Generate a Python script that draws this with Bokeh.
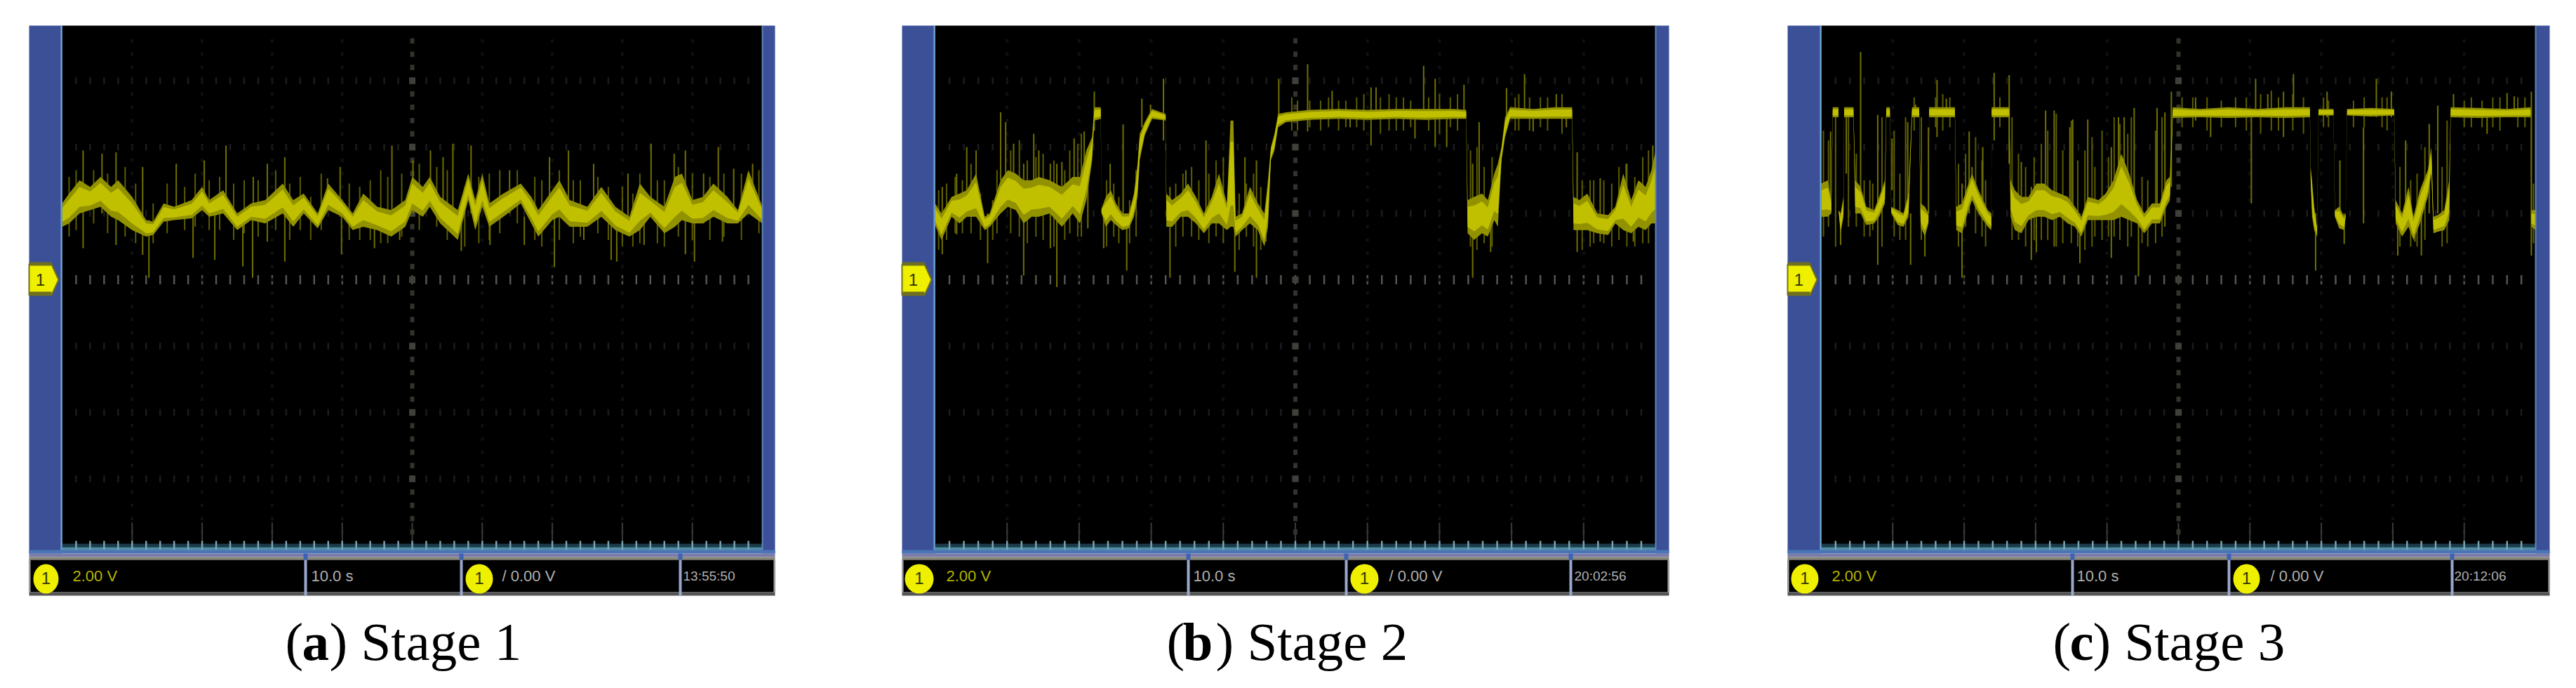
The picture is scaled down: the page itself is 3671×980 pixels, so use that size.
from bokeh.plotting import figure
from bokeh.layouts import row
from bokeh.models import Range1d
from bokeh.core.properties import value
from bokeh.embed import file_html
from bokeh.resources import INLINE

# ---------- Stage 1 trace (seconds, volts) ----------
a_t = [0,1,2.5,4,5.5,7,8,10,12,13,14.5,16,18.5,20,21,23,25,27,29,31.5,33,34.5,36.5,38,40,41.5,43,45,47,49,50,51.5,52.5,54,56.5,58,59,60,61,63,65.5,67,68,70,71,72.5,75,77,79,81,82.5,84,86,87.5,88.5,90,91.5,93,95,96.5,98,100]
a_lo = [1.6,1.7,2.0,2.1,2.2,1.9,1.8,1.5,1.3,1.35,1.75,1.8,1.85,2.1,1.9,2.0,1.5,1.8,1.7,2.0,1.6,2.0,1.55,2.1,1.9,1.5,1.6,1.5,1.3,1.6,2.1,1.9,2.2,1.7,1.2,2.4,1.5,2.2,1.6,1.9,2.3,1.7,1.3,1.8,1.9,1.6,1.6,1.9,1.5,1.3,1.5,1.9,1.4,1.6,1.8,1.7,1.7,1.9,1.7,1.7,2.0,1.7]
a_hi = [2.3,2.6,3.0,2.8,3.1,2.8,3.0,2.5,1.8,1.75,2.3,2.2,2.4,2.8,2.4,2.7,2.0,2.3,2.4,2.9,2.4,2.6,2.0,2.9,2.4,2.0,2.6,2.2,2.1,2.4,3.1,2.8,3.1,2.5,2.1,3.2,2.4,3.2,2.3,2.6,2.9,2.5,2.1,2.7,3.0,2.4,2.2,2.8,2.2,1.9,2.9,2.5,2.2,3.1,3.2,2.4,2.5,2.9,2.5,2.1,3.3,2.2]
a_spike_t = [3.0,5.7,7.7,11.5,16.3,20.3,23.4,27.3,29.3,31.8,
             37.9,39.7,47.1,50.1,52.6,54.4,55.8,58.4,63.9,69.6,
             72.3,75.9,80.8,84.1,87.4,89.0,91.6,93.7,95.9,98.6,
             12.4,18.7,21.8,25.8,27.2,39.9,44.6,48.2,57.0,61.1,
             66.0,70.3,74.5,78.4,79.2,83.1,90.3,94.3]
a_spike_lo = [0.95,2.0,1.05,0.75,2.0,2.1,2.0,1.8,1.15,0.55,
              2.1,1.9,1.5,2.0,2.2,1.8,1.8,2.0,2.0,1.9,
              1.7,1.9,1.5,1.9,1.7,0.77,1.7,1.9,1.7,2.0,
              0.06,0.66,0.6,0.4,0.06,0.77,0.95,1.2,0.87,1.05,
              1.05,0.38,1.2,0.6,0.55,1.05,0.55,1.15]
a_spike_hi = [3.9,3.8,3.84,3.4,3.5,3.6,4.05,3.1,3.5,3.7,
              3.06,3.4,4.05,3.6,3.9,3.7,4.1,4.05,3.3,3.7,
              3.9,3.5,3.2,4.1,3.8,3.9,3.2,4.0,3.35,3.5,
              1.8,2.0,2.0,1.8,1.9,2.0,1.9,1.8,1.7,1.9,
              1.9,2.0,1.8,1.8,1.7,1.7,1.9,1.9]
a_fine_t = [1,2,4.5,6.5,9,10.5,13,15,17.5,19,
            21,22.5,24.5,26,28,30.5,32.5,34,35.5,37,
            41,42.5,44,45.5,46.5,48.5,51,53.5,55,57.5,
            59.5,61,62.5,65,67.5,68.5,71,73,74,76.5,
            78,80,81.5,82.5,85,86,88,90,92.5,94.5,
            97,99.5]
a_fine_lo = [1.3,1.5,1.7,1.4,1.3,1.1,1.1,1.4,1.5,1.6,
             1.5,1.5,1.2,1.4,1.3,1.5,1.2,1.5,1.2,1.5,
             1.2,1.2,1.2,1.1,1.1,1.3,1.5,1.6,1.2,1.0,
             1.1,1.2,1.4,1.7,1.2,1.0,1.2,1.1,1.3,1.4,
             1.2,1.0,1.0,1.1,1.1,1.0,1.3,1.2,1.2,1.3,
             1.2,1.4]
a_fine_hi = [3.1,3.3,3.3,3.2,3.4,2.9,2.3,2.9,2.8,3.2,
             3.0,3.1,2.9,3.0,3.0,3.3,2.9,3.1,2.5,3.2,
             2.9,2.8,3.0,3.3,3.1,3.2,3.5,3.4,3.3,2.8,
             3.1,3.2,3.3,3.3,3.1,3.0,3.3,3.0,3.0,3.1,
             2.8,2.8,2.6,3.2,3.0,3.0,3.4,3.2,3.1,3.2,
             3.2,3.3]

# ---------- Stage 2 trace ----------
b_t = [0,0.9,2.3,3.4,4.4,5.7,6.9,7.6,9.1,10.1,11.2,12.3,13.4,14.4,15.9,17.6,19.1,20.1,21,21.8,22.1,23,
       23.1,23.7,24.4,25.1,26,26.9,27.6,28.1,28.4,29.1,30.1,32,
       32.1,32.9,34.1,35.1,36.2,37.3,38.4,39.4,40.5,41,41.4,41.7,42.6,43.7,44.8,45.7,46.2,46.6,47.1,47.6,
       48.7,52,56,60,64,68,72,73.7,
       73.9,74.8,75.9,76.7,77.6,78.1,78.6,79.1,79.8,83,86,88.4,
       88.6,89.4,90.5,91.9,93.4,94.4,95.5,96.6,97.6,98.6,99.4,100]
b_lo = [1.65,1.2,1.9,1.7,1.9,1.9,1.5,1.6,2.0,2.2,2.1,1.7,1.9,1.9,2.0,1.6,2.0,1.7,2.4,3.6,4.8,4.85,
        2.0,1.6,1.8,1.65,1.5,1.55,1.9,2.5,3.6,4.35,4.85,4.8,
        1.6,1.6,1.9,1.9,1.7,1.4,1.7,1.7,1.5,1.6,1.6,1.3,1.5,1.7,1.5,1.0,1.6,3.6,3.9,4.6,
        4.75,4.82,4.85,4.82,4.85,4.82,4.85,4.85,
        1.4,1.2,1.4,1.3,1.8,1.6,3.6,4.3,4.85,4.85,4.85,4.85,
        1.5,1.5,1.5,1.4,1.35,1.7,1.5,1.4,1.6,1.5,1.7,1.7]
b_hi = [2.3,2.0,2.5,2.6,2.7,3.2,1.9,2.0,3.0,3.3,3.2,3.0,3.0,3.1,3.0,2.8,3.1,3.1,3.9,4.3,5.2,5.2,
        2.15,2.5,2.7,2.3,2.0,2.0,2.6,3.5,4.4,4.75,5.15,5.0,
        2.6,2.4,2.6,2.9,2.5,2.0,2.5,3.2,2.3,4.8,4.8,1.9,2.0,2.8,2.3,2.0,3.0,4.0,4.4,5.0,
        5.05,5.12,5.15,5.12,5.15,5.15,5.15,5.12,
        2.4,2.5,2.6,2.4,3.2,3.5,4.0,4.9,5.2,5.15,5.2,5.2,
        2.5,2.4,2.6,2.0,1.95,2.2,3.2,2.4,3.0,2.8,3.3,3.9]
b_spike_t = [1.0,3.0,4.4,5.7,7.3,9.1,9.8,10.9,12.3,13.7,
             14.4,16.0,16.9,17.6,19.3,20.7,21.2,22.1,23.4,24.3,
             26.1,26.6,28.7,29.9,31.7,32.6,34.8,37.6,41.6,43.0,
             44.6,45.9,47.7,51.7,55.1,57.6,60.5,61.2,66.6,67.8,
             69.4,71.0,73.4,74.6,75.5,77.1,79.3,81.8,83.0,86.2,
             87.6,89.1,92.3,95.9,96.9,99.6]
b_spike_lo = [0.77,1.37,2.2,2.5,0.5,3.0,3.0,3.0,0.13,2.5,
              2.5,0.95,-0.22,2.5,2.5,2.5,1.55,4.5,0.95,2.0,
              2.0,0.28,4.6,4.8,4.2,0.06,2.0,2.0,0.24,2.0,
              0.06,1.15,4.8,4.47,4.9,4.6,4.05,4.9,4.26,4.9,
              4.0,4.0,4.9,0.06,2.2,0.84,4.8,4.9,4.47,4.9,
              4.6,0.84,1.15,2.0,1.15,2.5]
b_spike_hi = [2.8,3.2,4.0,3.9,2.0,5.05,4.75,4.1,3.5,4.4,
              3.9,3.5,3.5,3.55,4.26,4.47,3.4,5.67,2.0,3.5,
              4.68,2.0,5.46,5.28,6.06,2.8,3.3,4.2,2.0,3.7,
              3.6,2.0,6.06,6.5,5.7,5.0,5.8,5.8,5.0,6.45,
              6.06,5.0,5.88,3.5,4.75,2.4,5.78,6.2,5.0,5.6,
              5.0,3.84,3.06,3.5,2.0,4.05]
b_fine_t = [0.5,1.6,2.8,3.8,5,6.3,8,8.6,10.5,11.7,
            12.8,14,15,16.5,18,18.7,19.8,20.3,23.8,24.8,
            25.5,27,27.9,33.4,34.4,35.6,36.6,38,39,40,
            42.2,43.2,44.2,45.2,74.3,75.2,76.2,77.3,89.8,90.9,
            91.4,92.8,93.9,94.9,96,97.1,98.2,99,49.5,50.3,
            52,53.5,54.6,56,57,58.5,59.5,61.8,63,64,
            65,66,68.5,70,71.5,72.5,80.5,81,82.5,84,85,87]
b_fine_lo = [0.9,1.2,1.4,1.4,1.4,1.2,1.2,1.4,1.4,1.3,
             1.1,1.3,1.2,1.0,1.2,1.4,1.3,1.3,1.0,1.3,
             1.1,1.1,1.3,1.0,1.3,1.3,1.2,1.1,1.3,1.1,
             0.9,1.3,1.0,0.9,1.0,0.9,1.1,1.0,0.9,1.0,
             1.1,1.1,1.0,1.2,1.0,1.0,1.1,1.1,4.5,4.5,
             4.6,4.5,4.6,4.5,4.6,4.6,4.5,4.4,4.5,4.5,
             4.5,4.6,4.5,4.4,4.6,4.5,4.5,4.5,4.5,4.6,4.5,4.4]
b_fine_hi = [2.7,2.9,3.1,3.0,3.5,2.6,2.4,3.3,3.9,4.2,
             3.6,3.7,3.8,3.6,3.3,3.9,4.1,4.4,3.0,2.9,
             2.5,2.4,3.3,2.9,3.2,3.4,3.0,3.2,3.6,3.7,
             2.6,2.9,3.2,2.8,3.9,4.0,3.4,3.7,3.0,3.0,
             3.0,3.0,2.9,3.4,3.5,3.1,3.7,3.9,5.5,5.4,
             5.4,5.4,5.5,5.4,5.4,5.5,5.6,5.5,5.6,5.5,
             5.5,5.4,5.5,5.6,5.5,5.6,5.5,5.6,5.5,5.5,5.5,5.6]

# ---------- Stage 3 trace ----------
c_t = [0,0.9,1.4,1.6,2.4,2.45,2.7,3.1,3.2,4.5,4.75,5.5,6.3,7.4,8.1,8.9,9.1,9.6,9.8,10.7,11.5,12.2,12.7,13.7,
       13.9,14.5,15,15.1,18.7,18.9,19.7,20.6,21.1,22,23.3,23.8,23.85,26.3,26.5,27.1,28,29,30.1,31.2,32.3,33.4,34.5,
       35.5,36.4,37.3,38.8,39.8,40.9,42,43.1,44.2,45.2,46.3,47.4,48.3,48.8,49.2,53,57,61,65,68.4,
       68.5,68.7,69,69.4,69.6,71.7,71.9,72.5,73.2,73.4,73.6,77,80.2,
       80.4,81.3,82.2,82.9,83.8,84.9,85.4,85.7,86.3,87.2,87.9,88.1,92,96,99.3,99.4,100]
c_lo = [1.9,1.9,2.0,4.9,4.9,2.0,1.4,1.9,4.9,4.9,2.0,2.0,1.65,1.7,1.9,2.3,4.9,4.9,2.0,1.65,1.6,1.9,4.9,4.9,
        1.6,1.3,1.7,4.9,4.9,1.5,1.4,2.1,2.4,2.0,1.6,1.5,4.9,4.9,1.9,1.5,1.4,1.8,1.9,1.9,1.8,1.9,1.7,
        1.6,1.3,1.8,1.8,1.8,1.8,1.9,1.8,1.7,1.4,1.7,1.7,2.2,2.4,4.88,4.9,4.88,4.9,4.88,4.9,
        3.0,1.9,1.5,1.3,4.95,4.95,1.9,1.55,1.5,1.9,4.95,4.92,4.95,
        1.7,1.3,1.6,1.2,1.7,2.5,3.2,1.4,1.45,1.5,1.8,4.9,4.88,4.9,4.9,1.6,1.5]
c_hi = [2.9,3.0,2.4,5.2,5.2,2.1,2.0,2.5,5.2,5.2,3.0,2.8,2.2,2.1,2.5,3.0,5.2,5.2,2.2,2.1,2.0,2.6,5.2,5.2,
        2.3,2.2,2.0,5.2,5.2,2.2,2.3,2.9,3.2,2.7,2.1,2.0,5.2,5.2,3.0,2.7,2.5,2.5,2.9,2.9,2.7,2.6,2.5,
        2.2,1.9,2.5,2.4,2.6,3.0,3.8,3.2,2.4,2.0,2.3,2.3,3.0,3.1,5.2,5.15,5.2,5.15,5.2,5.2,
        3.4,3.0,2.2,1.6,5.15,5.15,2.1,2.2,1.9,2.0,5.15,5.18,5.15,
        2.4,2.0,2.8,1.9,2.7,3.3,4.0,1.9,1.95,2.1,3.0,5.2,5.18,5.15,5.2,2.1,2.1]
c_spike_t = [5.5,1.3,3.5,2.7,7.9,9.9,12.1,12.5,13.2,14.5,
             15.0,16.2,17.5,19.7,20.7,22.6,21.1,24.2,26.3,28.0,
             29.4,30.1,31.4,32.6,35.2,36.2,34.8,37.3,40.6,41.6,
             42.4,43.8,44.4,47.0,48.1,49.0,52.4,54.5,60.8,60.2,
             62.5,64.7,66.1,69.2,70.8,72.6,73.2,75.9,77.7,79.8,
             80.7,81.8,83.1,84.0,85.1,86.3,88.5,93.2,96.0,97.0,99.4]
c_spike_lo = [2.5,2.0,3.2,1.05,0.45,2.7,2.0,0.45,4.9,0.7,
              2.0,4.3,4.9,0.06,2.0,2.0,2.5,4.2,3.5,2.0,
              0.6,0.84,2.5,1.0,2.0,0.5,2.0,2.0,0.66,2.0,
              2.0,2.0,0.1,2.0,1.6,2.8,4.8,4.3,4.9,2.3,
              4.9,4.3,4.9,0.28,4.9,2.0,1.08,1.7,4.9,4.9,
              0.73,2.0,1.15,0.73,2.0,2.0,4.9,4.4,4.9,4.9,0.73]
c_spike_hi = [6.87,4.47,4.9,2.0,4.97,4.26,4.75,2.0,5.28,2.0,
              4.6,6.02,5.46,2.9,4.47,4.0,3.4,6.24,6.17,3.55,
              2.8,2.0,5.1,5.1,4.83,2.0,4.6,4.83,4.0,4.9,
              4.9,5.18,2.0,5.18,5.04,5.67,5.5,5.0,6.06,5.0,
              5.6,5.67,6.2,2.0,5.67,3.6,2.0,4.6,6.06,5.67,
              2.0,4.2,2.0,2.0,4.7,5.25,5.6,5.0,5.63,5.53,5.67]
c_fine_t = [0.3,1.0,2.0,3.8,4.9,6.0,6.8,7.2,8.5,10.2,
            11,11.8,13,14,16,17,18,19.2,20.2,21.6,
            22.5,23,25,26.7,27.6,28.6,29.8,30.8,31.7,32.9,
            33.8,35,35.9,36.9,37.9,38.3,39.3,40.2,41,41.8,
            42.9,43.4,44.9,45.7,46.8,47.7,50.5,52,54,56,
            58,59.5,61.5,63,64,66,67.5,70.3,71,74.5,
            76,78.5,79.2,81,82.5,83.4,84.5,86.9,87.6,90,
            91,92.5,94,95,97.5,98.5,99.7]
c_fine_lo = [1.3,1.6,1.0,1.6,1.6,1.3,1.3,1.5,1.0,1.3,
             1.2,1.2,4.5,1.2,4.6,4.5,4.6,1.0,1.6,1.4,
             1.3,1.0,4.6,1.2,1.2,1.0,1.2,1.2,1.2,1.0,
             1.1,1.1,1.0,0.9,1.0,1.3,1.2,1.3,1.3,1.2,
             1.0,1.3,1.1,1.0,1.1,1.3,4.6,4.6,4.5,4.6,
             4.6,4.5,4.4,4.5,4.5,4.5,4.4,4.6,4.6,4.6,
             4.6,4.6,4.5,1.0,1.0,1.0,1.2,1.0,1.1,4.6,
             4.6,4.6,4.6,4.5,4.6,4.6,1.1]
c_fine_hi = [4.5,4.2,4.9,4.9,3.8,3.0,3.0,2.9,4.9,4.5,
             3.2,4.9,5.5,4.9,5.5,5.6,5.5,3.5,3.8,4.3,
             3.6,3.0,5.5,4.9,3.8,3.4,3.7,4.1,4.5,5.0,
             3.9,4.8,3.6,3.9,4.3,3.4,4.5,3.7,4.9,4.7,
             4.4,4.9,3.1,3.0,4.5,4.9,5.5,5.5,5.5,5.4,
             5.5,5.5,5.6,5.7,5.5,5.6,5.5,5.5,5.4,5.4,
             5.5,5.5,5.5,3.4,3.0,3.2,4.0,3.4,4.8,5.4,
             5.5,5.4,5.5,5.5,5.5,5.5,2.9]

scale_label = "2.00 V"
time_label = "10.0 s"
trigger_label = "/ 0.00 V"
timestamps = ["13:55:50", "20:02:56", "20:12:06"]
caption_tags = ["a", "b", "c"]
caption_rest = [") Stage 1", ") Stage 2", ") Stage 3"]

BLUE, EDGE = "#3b5097", "#6fa8d8"
YEL = "#efef00"
SANS = value("Liberation Sans")
SERIF = value("Liberation Serif")

PANELS = [
    dict(fig=(0, 1195), left=41, black=(88, 1086), right=1104, div=(435, 657, 969),
         ell1=(47, 83), ell2=(663, 702), tx=(103, 443, 715, 973), cap=(406, 430, 469)),
    dict(fig=(1195, 2460), left=1285, black=(1332, 2359), right=2378, div=(1693, 1918, 2238),
         ell1=(1289, 1330), ell2=(1924, 1964), tx=(1348, 1700, 1979, 2243), cap=(1662, 1685, 1732)),
    dict(fig=(2460, 3655), left=2547, black=(2595, 3613), right=3633, div=(2953, 3176, 3494),
         ell1=(2552, 2591), ell2=(3182, 3220), tx=(2610, 2959, 3235, 3497), cap=(2925, 2949, 2982)),
]
PAGE_TOP, PAGE_BOTTOM, ZERO_Y, PX_PER_VOLT = 0, 964, 398, 47.25
TOP, PLOT_BOTTOM, BOTTOM = 36, 774, 848


def panel(cfg, idx, t, lo, hi, s_t, s_lo, s_hi, f_t, f_lo, f_hi):
    b0, b1 = cfg["black"]
    X = lambda px: (px - b0) / (b1 - b0) * 100
    Y = lambda py: (ZERO_Y - py) / PX_PER_VOLT
    f0, f1 = cfg["fig"]
    p = figure(width=f1 - f0, height=PAGE_BOTTOM - PAGE_TOP,
               x_range=Range1d(X(f0), X(f1)), y_range=Range1d(Y(PAGE_BOTTOM), Y(PAGE_TOP)),
               output_backend="svg", toolbar_location=None, min_border=0, outline_line_color=None,
               background_fill_color="white", border_fill_color="white")
    p.axis.visible = False
    p.grid.visible = False
    L, R = cfg["left"], cfg["right"]

    def rect(x0, x1, y0, y1, color):
        p.quad(left=X(x0), right=X(x1), top=Y(y0), bottom=Y(y1), fill_color=color, line_color=None)

    # screen
    rect(b0, b1, TOP, PLOT_BOTTOM + 9, "black")

    # graticule
    xs = [i * 2 for i in range(1, 50)]
    for v in [-6, -4, -2, 2, 4, 6]:
        p.segment(xs, [v - 0.1] * 49, xs, [v + 0.1] * 49, line_color="#1c1c1c", line_width=2.5)
    p.segment(xs, [-0.14] * 49, xs, [0.14] * 49, line_color="#55554e", line_width=2.5)
    ys = [i * 0.4 for i in range(-19, 19)]
    for tk in [i * 10 for i in range(1, 10)]:
        p.segment([tk] * 38, [y - 0.05 for y in ys], [tk] * 38, [y + 0.05 for y in ys],
                  line_color="#101010", line_width=4)
        p.segment([tk], [Y(PLOT_BOTTOM)], [tk], [Y(PLOT_BOTTOM - 30)], line_color="#3a3a3a", line_width=2)
    p.segment([50] * 38, [y - 0.08 for y in ys], [50] * 38, [y + 0.08 for y in ys],
              line_color="#33332b", line_width=6)
    for v in [-6, -4, -2, 0, 2, 4, 6]:
        p.rect([50], [v], width=0.9, height=0.2, fill_color="#40403a", line_color=None)

    # trace: dim fringe spikes, envelope, bright core
    p.segment(f_t, f_lo, f_t, f_hi, line_color="#5c5c00", line_width=2)
    p.segment(s_t, s_lo, s_t, s_hi, line_color="#707000", line_width=2)
    p.varea(x=t, y1=lo, y2=hi, fill_color="#929200")
    p.varea(x=t, y1=[a + 0.2 * (b - a) for a, b in zip(lo, hi)], y2=[b - 0.2 * (b - a) for a, b in zip(lo, hi)],
            fill_color="#c0c000")

    # bottom graticule band
    rect(b0, b1, PLOT_BOTTOM, PLOT_BOTTOM + 5, "#1c3c4a")
    rect(b0, b1, PLOT_BOTTOM + 5, PLOT_BOTTOM + 9, "#4f8fa8")
    p.segment(xs, [Y(PLOT_BOTTOM - 4)] * 49, xs, [Y(PLOT_BOTTOM + 9)] * 49, line_color="#7da4b4", line_width=2.5)

    # blue bezel
    rect(L, b0, TOP, PLOT_BOTTOM + 14, BLUE)
    rect(b1, R, TOP, PLOT_BOTTOM + 14, BLUE)
    rect(b0 - 2, b0, TOP, PLOT_BOTTOM + 9, EDGE)
    rect(b1 - 1, b1 + 1, TOP, PLOT_BOTTOM + 9, "#5f86b8")
    rect(L, R, 783, 788, "#4a76b8")
    rect(L, R, 788, 793, "#7c7cab")
    rect(L, R, 793, 797, "#858578")
    rect(L, R, 797, 843, "black")
    rect(L, R, 843, BOTTOM, "#555555")
    rect(L, L + 2, 797, 843, "#a8a8b0")
    rect(R - 2, R, 797, 843, "#a8a8b0")
    for d in cfg["div"]:
        rect(d - 2, d + 2, 797, BOTTOM, "#9aa6cc")
        rect(d - 3, d + 3, 788, 797, "#3d62b4")

    # channel marker
    p.patch(x=[X(v) for v in (L, L + 32, L + 42, L + 32, L)],
            y=[Y(v) for v in (376, 376, 398, 420, 420)],
            fill_color=YEL, line_color="#70701a", line_width=2)
    rect(L, L + 32, 373, 378, "#6f6f20")
    rect(L, L + 32, 415, 420, "#6f6f20")
    p.text([X(L + 16)], [Y(ZERO_Y)], text=["1"], text_color="#333300", text_align="center",
           text_baseline="middle", text_font_size="24px", text_font=SANS)

    # status bar
    for e0, e1 in (cfg["ell1"], cfg["ell2"]):
        p.ellipse([X((e0 + e1) / 2)], [Y(824)], width=X(e1) - X(e0), height=Y(803) - Y(845),
                  fill_color=YEL, line_color=None)
        p.text([X((e0 + e1) / 2)], [Y(823)], text=["1"], text_color="#333300", text_align="center",
               text_baseline="middle", text_font_size="24px", text_font=SANS)
    labels = [scale_label, time_label, trigger_label, timestamps[idx]]
    colors = ["#b4b400", "#b0b0b0", "#b0b0b0", "#b0b0b0"]
    sizes = ["22px", "22px", "22px", "19px"]
    for tx, lab, col, sz in zip(cfg["tx"], labels, colors, sizes):
        p.text([X(tx)], [Y(820)], text=[lab], text_color=col, text_align="left", text_baseline="middle",
               text_font_size=sz, text_font=SANS)

    # caption
    c0, c1, c2 = cfg["cap"]
    for px, txt, style in ((c0, "(", "normal"), (c1, caption_tags[idx], "bold"), (c2, caption_rest[idx], "normal")):
        p.text([X(px)], [Y(913)], text=[txt], text_color="black", text_align="left",
               text_baseline="middle", text_font_size="77px", text_font=SERIF,
               text_font_style=style)
    return p


layout = row(
    panel(PANELS[0], 0, a_t, a_lo, a_hi, a_spike_t, a_spike_lo, a_spike_hi, a_fine_t, a_fine_lo, a_fine_hi),
    panel(PANELS[1], 1, b_t, b_lo, b_hi, b_spike_t, b_spike_lo, b_spike_hi, b_fine_t, b_fine_lo, b_fine_hi),
    panel(PANELS[2], 2, c_t, c_lo, c_hi, c_spike_t, c_spike_lo, c_spike_hi, c_fine_t, c_fine_lo, c_fine_hi),
    spacing=0,
)
open("out.html", "w").write(file_html(layout, INLINE))
